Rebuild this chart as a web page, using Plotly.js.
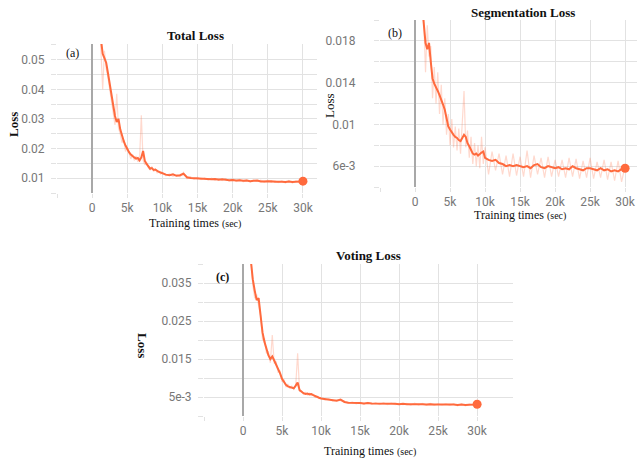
<!DOCTYPE html>
<html>
<head>
<meta charset="utf-8">
<script src="https://cdn.plot.ly/plotly-3.0.1.min.js"></script>
<style>html,body{margin:0;padding:0;background:#fff;}#chart{width:639px;height:462px;}</style>
</head>
<body>
<div id="chart"></div>
<script>
// ---- data ----
const steps = [1000,1250,1500,1750,2000,2250,2500,2750,3000,3250,3500,3750,4000,4250,4500,4750,5000,5250,5500,5750,6000,6250,6500,6750,7000,7250,7500,7750,8000,8250,8500,8750,9000,9250,9500,9750,10000,10500,11000,11500,12000,12500,13000,13500,14000,14500,15000,15500,16000,16500,17000,17500,18000,18500,19000,19500,20000,20500,21000,21500,22000,22500,23000,23500,24000,24500,25000,25500,26000,26500,27000,27500,28000,28500,29000,29500,30000];

const totalSmooth = [0.062,0.057,0.052,0.0505,0.049,0.0455,0.042,0.038,0.0345,0.031,0.029,0.0300,0.0265,0.024,0.0225,0.021,0.0198,0.0188,0.0180,0.0174,0.0170,0.0166,0.0168,0.0160,0.0170,0.0192,0.0158,0.0148,0.0140,0.0132,0.0134,0.0128,0.0129,0.0124,0.0121,0.0119,0.0116,0.0112,0.0110,0.0113,0.0108,0.0110,0.0115,0.0103,0.0101,0.0100,0.0099,0.0100,0.0097,0.0098,0.0096,0.0097,0.0095,0.0096,0.0094,0.0093,0.0094,0.0092,0.0093,0.0091,0.0092,0.0090,0.0091,0.0092,0.0089,0.0090,0.0089,0.0090,0.0088,0.0089,0.0088,0.0087,0.0089,0.0087,0.0088,0.0087,0.0090];
const totalRaw = [0.066,0.055,0.040,0.053,0.047,0.044,0.040,0.036,0.033,0.028,0.0385,0.027,0.025,0.022,0.023,0.019,0.0205,0.018,0.0165,0.018,0.016,0.0175,0.0155,0.0165,0.0312,0.016,0.0145,0.0155,0.0135,0.0128,0.0140,0.0122,0.0132,0.0118,0.0125,0.0114,0.0119,0.0108,0.0114,0.0106,0.0112,0.0105,0.0120,0.0098,0.0105,0.0096,0.0103,0.0095,0.0101,0.0094,0.0100,0.0093,0.0099,0.0092,0.0098,0.0090,0.0097,0.0089,0.0096,0.0088,0.0095,0.0087,0.0094,0.0089,0.0093,0.0086,0.0093,0.0086,0.0092,0.0085,0.0091,0.0084,0.0092,0.0084,0.0091,0.0084,0.0105];

const segSmooth = [0.0215,0.0196,0.0178,0.0172,0.0178,0.0160,0.0144,0.0139,0.0136,0.0132,0.0128,0.0124,0.0119,0.0114,0.0104,0.0098,0.0095,0.0092,0.0090,0.0088,0.0087,0.0085,0.0084,0.0087,0.0090,0.0088,0.0082,0.0079,0.0076,0.0072,0.0071,0.0072,0.0070,0.0072,0.0073,0.0074,0.0068,0.0066,0.0065,0.0066,0.0063,0.0062,0.0060,0.0061,0.0060,0.0061,0.0060,0.0059,0.0060,0.0058,0.0061,0.0062,0.0059,0.0058,0.0060,0.0059,0.0058,0.0059,0.0057,0.0058,0.0057,0.0060,0.0058,0.0057,0.0056,0.0058,0.0058,0.0057,0.0056,0.0058,0.0056,0.0057,0.0055,0.0056,0.0055,0.0057,0.0058];
const segRaw = [0.0225,0.0200,0.0150,0.0195,0.0165,0.0175,0.0125,0.0155,0.0120,0.0150,0.0110,0.0138,0.0100,0.0125,0.0090,0.0110,0.0080,0.0105,0.0078,0.0098,0.0075,0.0096,0.0072,0.0100,0.0132,0.0078,0.0094,0.0068,0.0088,0.0062,0.0082,0.0060,0.0080,0.0058,0.0088,0.0062,0.0078,0.0052,0.0074,0.0056,0.0072,0.0052,0.0070,0.0050,0.0072,0.0051,0.0069,0.0050,0.0075,0.0049,0.0070,0.0052,0.0068,0.0049,0.0069,0.0050,0.0066,0.0050,0.0066,0.0049,0.0068,0.0050,0.0067,0.0048,0.0065,0.0049,0.0068,0.0048,0.0064,0.0049,0.0066,0.0047,0.0064,0.0046,0.0065,0.0045,0.0060];

const voteSmooth = [0.0410,0.0360,0.0330,0.0305,0.0310,0.0255,0.0220,0.0195,0.0176,0.0160,0.0150,0.0157,0.0146,0.0135,0.0125,0.0112,0.0098,0.0088,0.0082,0.0078,0.0076,0.0074,0.0073,0.0080,0.0088,0.0068,0.0063,0.0060,0.0058,0.0059,0.0057,0.0058,0.0055,0.0052,0.0050,0.0048,0.0046,0.0044,0.0042,0.0041,0.0040,0.0043,0.0037,0.0035,0.0035,0.0034,0.0034,0.0033,0.0034,0.0033,0.0033,0.0032,0.0033,0.0032,0.0032,0.0032,0.0031,0.0032,0.0031,0.0031,0.0032,0.0031,0.0031,0.0030,0.0031,0.0030,0.0030,0.0031,0.0030,0.0030,0.0030,0.0029,0.0030,0.0029,0.0029,0.0030,0.0031];
const voteRaw = [0.0420,0.0345,0.0310,0.0320,0.0290,0.0265,0.0200,0.0205,0.0165,0.0170,0.0140,0.0213,0.0138,0.0142,0.0115,0.0118,0.0090,0.0095,0.0076,0.0084,0.0072,0.0079,0.0070,0.0078,0.0165,0.0065,0.0066,0.0057,0.0062,0.0055,0.0060,0.0054,0.0057,0.0049,0.0052,0.0046,0.0048,0.0042,0.0045,0.0039,0.0042,0.0040,0.0039,0.0033,0.0037,0.0032,0.0036,0.0031,0.0036,0.0031,0.0035,0.0030,0.0035,0.0030,0.0034,0.0030,0.0033,0.0030,0.0033,0.0029,0.0034,0.0029,0.0033,0.0028,0.0033,0.0028,0.0032,0.0029,0.0032,0.0028,0.0032,0.0027,0.0032,0.0027,0.0031,0.0028,0.0031];

const xTickVals = [-5000,0,5000,10000,15000,20000,25000,30000];
const xTickText = ['', '0', '5k', '10k', '15k', '20k', '25k', '30k'];
const totalTickVals = [0.005,0.01,0.015,0.02,0.025,0.03,0.035,0.04,0.045,0.05,0.055];
const totalTickText = ['', '0.01', '', '0.02', '', '0.03', '', '0.04', '', '0.05', ''];
const segTickVals = [0.004,0.006,0.008,0.01,0.012,0.014,0.016,0.018,0.02];
const segTickText = ['', '6e-3', '', '0.01', '', '0.014', '', '0.018', ''];
const voteTickVals = [0,0.005,0.01,0.015,0.02,0.025,0.03,0.035,0.04];
const voteTickText = ['', '5e-3', '', '0.015', '', '0.025', '', '0.035', ''];

const panelTitles = ['Total Loss', 'Segmentation Loss', 'Voting Loss'];
const panelTags = ['(a)', '(b)', '(c)'];

// ---- styling / layout ----
const W = 639, H = 462;
const px = x => x / W;
const py = y => 1 - y / H;
const ORANGE = '#ff6a3d';
const RAW = 'rgba(255,120,80,0.28)';
const GRID = '#e2e2e2';

function rawTrace(y, ax) {
  return {x: steps, y: y, xaxis: 'x' + ax, yaxis: 'y' + ax, mode: 'lines', type: 'scatter',
    line: {color: RAW, width: 1.2}, hoverinfo: 'skip', showlegend: false};
}
function smoothTrace(y, ax) {
  return {x: steps, y: y, xaxis: 'x' + ax, yaxis: 'y' + ax, mode: 'lines', type: 'scatter',
    line: {color: ORANGE, width: 2}, showlegend: false};
}
function endTrace(y, ax) {
  return {x: [steps[steps.length - 1]], y: [y[y.length - 1]], xaxis: 'x' + ax, yaxis: 'y' + ax,
    mode: 'markers', type: 'scatter', marker: {color: ORANGE, size: 9}, showlegend: false, cliponaxis: false};
}

const data = [
  rawTrace(totalRaw, ''), smoothTrace(totalSmooth, ''), endTrace(totalSmooth, ''),
  rawTrace(segRaw, '2'), smoothTrace(segSmooth, '2'), endTrace(segSmooth, '2'),
  rawTrace(voteRaw, '3'), smoothTrace(voteSmooth, '3'), endTrace(voteSmooth, '3')
];

const tickFont = {family: 'Roboto, "Open Sans", sans-serif', size: 12, color: '#777'};
function xAxis(domain, range, anchor) {
  return {domain: domain, range: range, anchor: anchor, tickvals: xTickVals, ticktext: xTickText,
    showgrid: true, gridcolor: GRID, gridwidth: 1, zeroline: true, zerolinecolor: '#a8a8a8', zerolinewidth: 2,
    ticks: 'outside', ticklen: 4, tickcolor: GRID, showline: false, tickfont: tickFont, fixedrange: true};
}
function yAxis(domain, range, anchor, vals, text, standoff) {
  return {domain: domain, range: range, anchor: anchor, tickvals: vals, ticktext: text,
    showgrid: true, gridcolor: GRID, gridwidth: 1, zeroline: false,
    ticks: 'outside', ticklen: 5, tickcolor: GRID, showline: false, tickfont: tickFont,
    ticklabelstandoff: standoff, fixedrange: true};
}

const serif = '"Liberation Serif", "Times New Roman", serif';
function ann(text, x, y, size, bold, angle) {
  return {text: bold ? '<b>' + text + '</b>' : text, x: px(x), y: py(y), xref: 'paper', yref: 'paper',
    showarrow: false, xanchor: 'center', yanchor: 'middle', textangle: angle || 0,
    font: {family: serif, size: size, color: '#111'}};
}
const xTitle = 'Training times <span style="font-size:10px">(sec)</span>';

const layout = {
  width: W, height: H, margin: {l: 0, r: 0, t: 0, b: 0}, paper_bgcolor: '#fff', plot_bgcolor: '#fff',
  showlegend: false,
  xaxis: xAxis([px(57), px(317)], [-5000, 32000], 'y'),
  yaxis: yAxis([py(193), py(44)], [0.005, 0.0553], 'x', totalTickVals, totalTickText, 4),
  xaxis2: xAxis([px(380), px(637)], [-5000, 31700], 'y2'),
  yaxis2: yAxis([py(187), py(20)], [0.004, 0.020], 'x2', segTickVals, segTickText, 16),
  xaxis3: xAxis([px(204), px(513)], [-5000, 34600], 'y3'),
  yaxis3: yAxis([py(416), py(264)], [0, 0.04], 'x3', voteTickVals, voteTickText, 4),
  annotations: [
    ann(panelTitles[0], 195, 35, 13, true), ann(panelTags[0], 72, 53, 12, false),
    ann('Loss', 13, 125, 13, true, -90), ann(xTitle, 195, 223, 12, false),
    ann(panelTitles[1], 523, 12, 13, true), ann(panelTags[1], 395, 33, 12, false),
    ann('Loss', 329, 106, 13, false, -90), ann(xTitle, 520, 215, 12, false),
    ann(panelTitles[2], 368, 255, 13, true), ann(panelTags[2], 222, 277, 12, true),
    ann('Loss', 143, 345, 13, true, 90), ann(xTitle, 370, 451, 12, false)
  ]
};

Plotly.newPlot('chart', data, layout, {displayModeBar: false, staticPlot: true});
</script>
</body>
</html>
